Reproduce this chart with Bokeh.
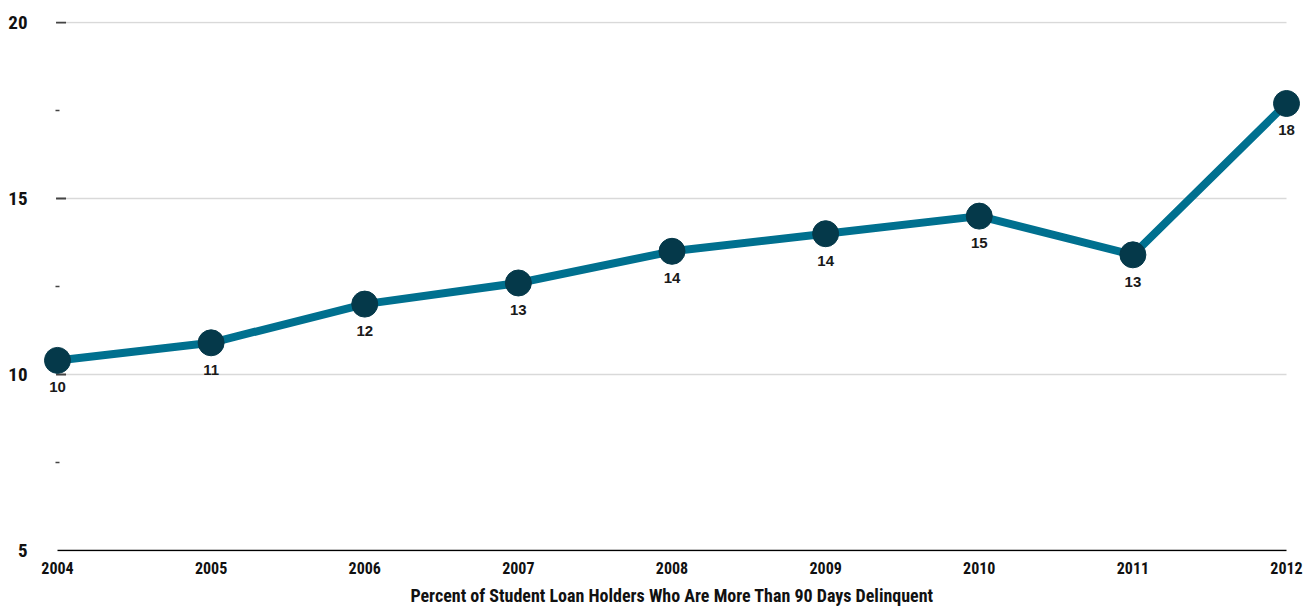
from bokeh.plotting import figure
from bokeh.models import Range1d, FixedTicker, ColumnDataSource
from bokeh.core.properties import value
from bokeh.embed import file_html
from bokeh.resources import INLINE
import math

# ---- data ----
years = [2004, 2005, 2006, 2007, 2008, 2009, 2010, 2011, 2012]
pct_delinquent = [10.4, 10.9, 12.0, 12.6, 13.5, 14.0, 14.5, 13.4, 17.7]
point_labels = [str(int(math.floor(v + 0.5))) for v in pct_delinquent]
y_ticks = [5, 10, 15, 20]
y_minor_ticks = [7.5, 12.5, 17.5]
grid_values = [10, 15, 20]
x_title = "Percent of Student Loan Holders Who Are More Than 90 Days Delinquent"

COND = "'Liberation Sans Narrow', 'Roboto Condensed', 'DejaVu Sans Condensed', sans-serif"
LINE_COLOR = "#00708f"
DOT_COLOR = "#05394a"

xpad = 0.0976
ypad = 0.03
p = figure(width=1312, height=608, output_backend="svg", toolbar_location=None,
           x_range=Range1d(years[0] - xpad, years[-1] + xpad),
           y_range=Range1d(y_ticks[0] - ypad, y_ticks[-1] + ypad),
           min_border_left=42, min_border_right=11, min_border_top=21, min_border_bottom=56)
p.outline_line_color = None
p.background_fill_color = "white"
p.xgrid.visible = False
p.ygrid.visible = False

# gridlines and baseline
p.segment(x0=[years[0]] * len(grid_values), x1=[years[-1]] * len(grid_values),
          y0=grid_values, y1=grid_values, line_color="#d9d9d9", line_width=1.5)
p.segment(x0=[years[0]], x1=[years[-1]], y0=[y_ticks[0]], y1=[y_ticks[0]],
          line_color="black", line_width=1.5)

# y tick marks
tick_x = years[0] + 0.023
p.scatter(x=[tick_x] * (len(y_ticks) - 1), y=y_ticks[1:], marker="dash", size=10,
          line_color="#444444", line_width=2)
p.scatter(x=[years[0]] * len(y_minor_ticks), y=y_minor_ticks, marker="dash", size=4,
          line_color="#444444", line_width=1.5)

src = ColumnDataSource(dict(x=years, y=pct_delinquent, label=point_labels))
p.line("x", "y", source=src, line_color=LINE_COLOR, line_width=8, line_join="round")
p.scatter("x", "y", source=src, size=26, fill_color=DOT_COLOR, line_color=DOT_COLOR)
p.text("x", "y", text="label", source=src, text_align="center", text_baseline="middle",
       y_offset=27, text_font=value("Liberation Sans"), text_font_style="bold",
       text_font_size="15px", text_color="#1a1a1a")

# axes
p.xaxis.ticker = FixedTicker(ticks=years)
p.xaxis.axis_line_color = None
p.xaxis.major_tick_line_color = None
p.xaxis.minor_tick_line_color = None
p.xaxis.major_label_text_font = COND
p.xaxis.major_label_text_font_style = "bold"
p.xaxis.major_label_text_font_size = "16px"
p.xaxis.major_label_text_color = "#111111"
p.xaxis.major_label_standoff = 4
p.xaxis.axis_label = x_title
p.xaxis.axis_label_text_font = COND
p.xaxis.axis_label_text_font_style = "bold"
p.xaxis.axis_label_text_font_size = "18px"
p.xaxis.axis_label_text_color = "#111111"
p.xaxis.axis_label_standoff = 8

p.yaxis.ticker = FixedTicker(ticks=y_ticks)
p.yaxis.axis_line_color = None
p.yaxis.major_tick_line_color = None
p.yaxis.minor_tick_line_color = None
p.yaxis.major_label_text_font = COND
p.yaxis.major_label_text_font_style = "bold"
p.yaxis.major_label_text_font_size = "19px"
p.yaxis.major_label_text_color = "#111111"
p.yaxis.major_label_standoff = 9

open("out.html", "w").write(file_html(p, INLINE))
